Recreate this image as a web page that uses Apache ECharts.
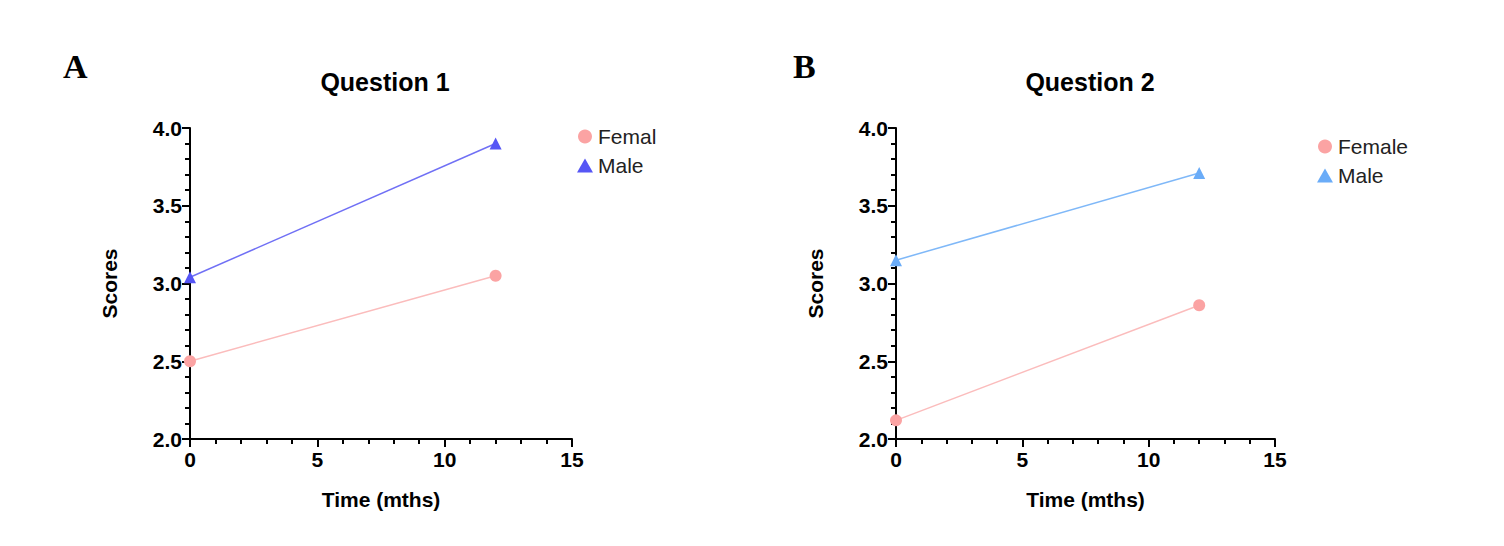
<!DOCTYPE html>
<html><head><meta charset="utf-8">
<script src="https://cdn.jsdelivr.net/npm/echarts@6/dist/echarts.min.js"></script>
<style>body{margin:0;background:#fff}#c{width:1504px;height:546px}</style>
</head><body><div id="c"></div>
<script>
var times = [0, 12];
var q1Female = [2.5, 3.05];
var q1Male = [3.04, 3.9];
var q2Female = [2.12, 2.86];
var q2Male = [3.15, 3.71];
var titles = ['Question 1', 'Question 2'];
var panelLetters = ['A', 'B'];

var chart = echarts.init(document.getElementById('c'), null, { renderer: 'svg' });
var font = 'Arial, Liberation Sans, sans-serif';
var pink = '#fba3a3', pinkLine = '#fbbcbc';

function pts(ys) { return times.map(function (t, i) { return [t, ys[i]]; }); }

function xAx(i) {
  return {
    gridIndex: i, type: 'value', min: 0, max: 15, interval: 5,
    name: 'Time (mths)', nameLocation: 'middle', nameGap: 50,
    nameTextStyle: { color: '#000', fontSize: 21, fontWeight: 'bold', fontFamily: font },
    axisLine: { lineStyle: { color: '#000', width: 2 } },
    axisTick: { length: 8, lineStyle: { width: 2 } },
    minorTick: { show: true, splitNumber: 5, length: 5, lineStyle: { color: '#000', width: 2 } },
    axisLabel: { color: '#000', fontSize: 21, fontWeight: 'bold', fontFamily: font, margin: 10 },
    splitLine: { show: false }
  };
}
function yAx(i) {
  return {
    gridIndex: i, type: 'value', min: 2.0, max: 4.0, interval: 0.5,
    name: 'Scores', nameLocation: 'middle', nameGap: 70,
    nameTextStyle: { color: '#000', fontSize: 21, fontWeight: 'bold', fontFamily: font },
    axisLine: { show: true, lineStyle: { color: '#000', width: 2 } },
    axisTick: { show: true, length: 8, lineStyle: { width: 2 } },
    minorTick: { show: true, splitNumber: 5, length: 5, lineStyle: { color: '#000', width: 2 } },
    axisLabel: { color: '#000', fontSize: 21, fontWeight: 'bold', fontFamily: font, margin: 8,
      formatter: function (v) { return v.toFixed(1); } },
    splitLine: { show: false }
  };
}
function ser(name, i, ys, color, lineColor, sym) {
  return { name: name, type: 'line', xAxisIndex: i, yAxisIndex: i, data: pts(ys),
    symbol: sym, symbolSize: 12, itemStyle: { color: color },
    lineStyle: { color: lineColor, width: 1.5 } };
}
function legend(i, x, y, names, colors, syms) {
  return { left: x, top: y, orient: 'vertical', itemGap: 8, itemWidth: 16, itemHeight: 14,
    data: names.map(function (n, k) { return { name: n, icon: syms[k], itemStyle: { color: colors[k] } }; }),
    textStyle: { color: '#222', fontSize: 21, fontFamily: font } };
}

chart.setOption({
  animation: false,
  title: [
    { text: titles[0], left: 380, top: 64, textAlign: 'center', textStyle: { fontSize: 25, fontWeight: 'bold', color: '#000', fontFamily: font } },
    { text: titles[1], left: 1085, top: 64, textAlign: 'center', textStyle: { fontSize: 25, fontWeight: 'bold', color: '#000', fontFamily: font } },
    { text: panelLetters[0], left: 58, top: 44, textStyle: { fontSize: 34, fontWeight: 'bold', color: '#000', fontFamily: 'Liberation Serif, serif' } },
    { text: panelLetters[1], left: 788, top: 44, textStyle: { fontSize: 34, fontWeight: 'bold', color: '#000', fontFamily: 'Liberation Serif, serif' } }
  ],
  legend: [
    legend(0, 572, 121, ['Femal', 'Male'], [pink, '#5656f5'], ['circle', 'triangle']),
    legend(1, 1312, 131, ['Female', 'Male '], [pink, '#6aacf8'], ['circle', 'triangle'])
  ],
  grid: [
    { left: 190, top: 128, width: 382, height: 311 },
    { left: 896, top: 128, width: 379, height: 311 }
  ],
  xAxis: [xAx(0), xAx(1)],
  yAxis: [yAx(0), yAx(1)],
  series: [
    ser('Femal', 0, q1Female, pink, pinkLine, 'circle'),
    ser('Male', 0, q1Male, '#5656f5', '#7070f5', 'triangle'),
    ser('Female', 1, q2Female, pink, pinkLine, 'circle'),
    ser('Male ', 1, q2Male, '#6aacf8', '#7fb8f8', 'triangle')
  ]
});
</script></body></html>
